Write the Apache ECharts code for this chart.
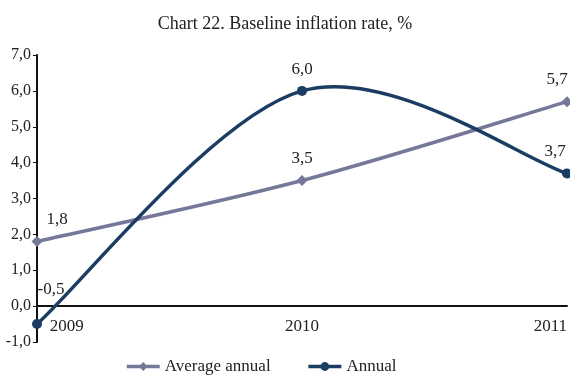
<!DOCTYPE html>
<html>
<head>
<meta charset="utf-8">
<script src="https://cdn.jsdelivr.net/npm/echarts@6/dist/echarts.min.js"></script>
<style>
  html, body { margin: 0; padding: 0; background: #fff; }
  #chart { width: 570px; height: 376px; }
</style>
</head>
<body>
<div id="chart"></div>
<script>
// Baseline inflation rate data
const years = ['2009', '2010', '2011'];
const averageAnnual = [1.8, 3.5, 5.7];
const annual = [-0.5, 6.0, 3.7];
const yTicks = { min: -1, max: 7, step: 1 };

const SERIF = '"Liberation Serif", "DejaVu Serif", serif';
const GREY = '#76789a';
const NAVY = '#1c3d63';
const LINE_W = 3.5;

const fmt = v => v.toFixed(1).replace('.', ',');

// per-point label placement: end labels are nudged sideways
function labelled(values, offsets) {
  return values.map((v, i) => ({
    value: v,
    label: offsets[i] ? { offset: offsets[i] } : {}
  }));
}

// Smoothed curve through the points: each segment is a cubic Bezier whose
// control points follow the neighbouring points (cardinal spline, 1/6 tension).
function splineSeries(name, values, color) {
  return {
    name: name,
    type: 'custom',
    silent: true,
    z: 1,
    clip: false,
    encode: { x: 0, y: 1 },
    data: values.map((v, i) => [i, v]),
    renderItem: (params, api) => {
      const i = params.dataIndex;
      const n = values.length;
      if (i >= n - 1) return null;
      const pt = k => api.coord([k, values[k]]);
      const p1 = pt(i);
      const p2 = pt(i + 1);
      const p0 = i > 0 ? pt(i - 1) : p1;
      const p3 = i + 2 < n ? pt(i + 2) : p2;
      return {
        type: 'bezierCurve',
        shape: {
          x1: p1[0], y1: p1[1],
          x2: p2[0], y2: p2[1],
          cpx1: p1[0] + (p2[0] - p0[0]) / 6,
          cpy1: p1[1] + (p2[1] - p0[1]) / 6,
          cpx2: p2[0] - (p3[0] - p1[0]) / 6,
          cpy2: p2[1] - (p3[1] - p1[1]) / 6
        },
        style: { stroke: color, lineWidth: LINE_W, fill: null, lineCap: 'round' }
      };
    }
  };
}

const pointLabel = {
  show: true, position: 'top', distance: 8,
  fontFamily: SERIF, fontSize: 17, color: '#222',
  formatter: p => fmt(p.value)
};

const chart = echarts.init(document.getElementById('chart'), null, { renderer: 'canvas' });

chart.setOption({
  backgroundColor: '#fff',
  animation: false,
  title: {
    text: 'Chart 22. Baseline inflation rate, %',
    left: 'center',
    top: 10,
    textStyle: { fontFamily: SERIF, fontSize: 18, fontWeight: 'normal', color: '#222' }
  },
  legend: {
    left: 120,
    top: 353,
    itemGap: 36,
    itemWidth: 33,
    itemHeight: 11,
    textStyle: { fontFamily: SERIF, fontSize: 17, color: '#222' },
    data: [
      { name: 'Average annual', lineStyle: { color: GREY, width: LINE_W, opacity: 1 } },
      { name: 'Annual', lineStyle: { color: NAVY, width: LINE_W, opacity: 1 } }
    ]
  },
  grid: { left: 37, right: 0, top: 55, bottom: 34, containLabel: false },
  xAxis: {
    type: 'category',
    data: years,
    boundaryGap: false,
    axisLine: { onZero: true, lineStyle: { color: '#111', width: 2 } },
    axisTick: { show: false },
    axisLabel: {
      fontFamily: SERIF, fontSize: 17, color: '#222', margin: -24,
      alignMinLabel: 'left', alignMaxLabel: 'right',
      formatter: (v, i) => i === 0 ? '   ' + v : v
    }
  },
  yAxis: {
    type: 'value',
    min: yTicks.min,
    max: yTicks.max,
    interval: yTicks.step,
    splitLine: { show: false },
    axisLine: { show: true, lineStyle: { color: '#111', width: 2 } },
    axisTick: { show: true, length: 4, lineStyle: { color: '#111', width: 1 } },
    axisLabel: {
      fontFamily: SERIF, fontSize: 16, color: '#222', margin: 6,
      formatter: v => fmt(v)
    }
  },
  series: [
    splineSeries('Average annual curve', averageAnnual, GREY),
    splineSeries('Annual curve', annual, NAVY),
    {
      name: 'Average annual',
      type: 'line',
      symbol: 'diamond',
      symbolSize: 11,
      z: 3,
      itemStyle: { color: GREY },
      lineStyle: { color: GREY, width: LINE_W, opacity: 0 },
      label: pointLabel,
      data: labelled(averageAnnual, [[20, 0], null, [-10, 0]])
    },
    {
      name: 'Annual',
      type: 'line',
      symbol: 'circle',
      symbolSize: 10,
      z: 4,
      itemStyle: { color: NAVY },
      lineStyle: { color: NAVY, width: LINE_W, opacity: 0 },
      label: pointLabel,
      data: labelled(annual, [[14, -13], null, [-12, 0]])
    }
  ]
});
</script>
</body>
</html>
